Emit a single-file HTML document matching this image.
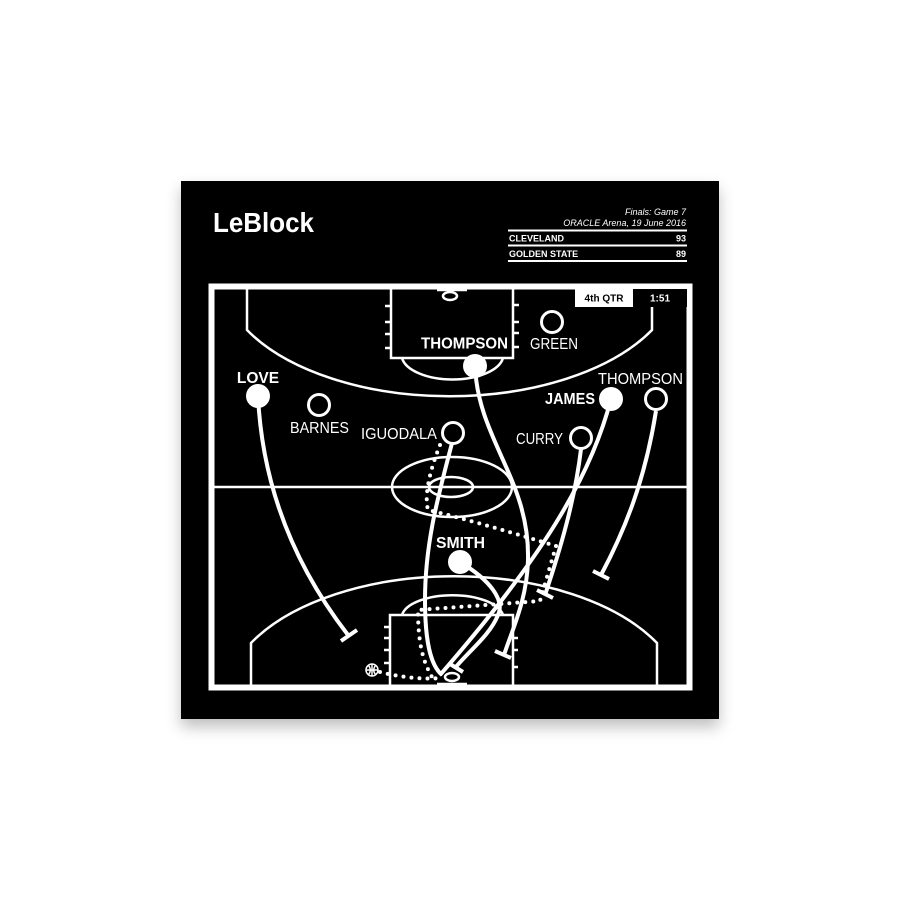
<!DOCTYPE html>
<html><head><meta charset="utf-8"><style>
html,body{margin:0;padding:0;background:#fff;width:900px;height:900px;overflow:hidden}
.p{position:absolute;left:181px;top:181px;width:538px;height:538px;background:#000;box-shadow:0 8px 14px rgba(0,0,0,0.25)}
svg{position:absolute;left:0;top:0}
text{font-family:"Liberation Sans",sans-serif;fill:#fff}
</style></head><body>
<div class="p"></div>
<svg width="900" height="900" viewBox="0 0 900 900">
<text x="213" y="232" font-size="28" font-weight="bold" textLength="101" lengthAdjust="spacingAndGlyphs">LeBlock</text>
<text x="686" y="215" font-size="9" font-style="italic" text-anchor="end">Finals: Game 7</text>
<text x="686" y="226" font-size="9" font-style="italic" text-anchor="end">ORACLE Arena, 19 June 2016</text>
<g stroke="#fff" stroke-width="2"><line x1="508" y1="230.5" x2="687" y2="230.5"/><line x1="508" y1="245.5" x2="687" y2="245.5"/><line x1="508" y1="261" x2="687" y2="261"/></g>
<text x="509" y="241.5" font-size="9" font-weight="bold">CLEVELAND</text>
<text x="686" y="241.5" font-size="9" font-weight="bold" text-anchor="end">93</text>
<text x="509" y="257" font-size="9" font-weight="bold">GOLDEN STATE</text>
<text x="686" y="257" font-size="9" font-weight="bold" text-anchor="end">89</text>

<g fill="none" stroke="#fff" stroke-width="2.5">
<rect x="211.5" y="286.5" width="478" height="401" stroke-width="6"/>
<line x1="212" y1="487" x2="689" y2="487"/>
<ellipse cx="452" cy="487" rx="60" ry="30"/>
<ellipse cx="451" cy="487" rx="22" ry="10"/>
<path d="M247,287 L247,330 A230,126 0 0 0 652,330 L652,287"/>
<rect x="391" y="287" width="122" height="71"/>
<path d="M402,358 A51,25 0 0 0 503,358"/>
<ellipse cx="450" cy="296" rx="7" ry="4"/>
<line x1="437" y1="290" x2="467" y2="290"/>
<path d="M385,306h6M385,322h6M385,334h6M385,348h6M513,305h6M513,322h6M513,333h6M513,347h6"/>
<path d="M251,687 L251,643 A230,126 0 0 1 657,643 L657,687"/>
<rect x="390" y="615" width="123" height="72"/>
<path d="M402,615 A51,23 0 0 1 503,615"/>
<ellipse cx="452" cy="677" rx="7" ry="4"/>
<line x1="437" y1="684" x2="467" y2="684"/>
<path d="M384,627h6M384,638h6M384,650h6M384,663h6M513,638h5M513,650h5M513,667h5"/>
</g>

<rect x="575" y="289" width="58" height="18" fill="#fff"/>
<text x="604" y="301.5" font-size="10" font-weight="bold" text-anchor="middle" style="fill:#000">4th QTR</text>
<rect x="633" y="289" width="54" height="18" fill="#000"/>
<text x="660" y="301.5" font-size="10" font-weight="bold" text-anchor="middle">1:51</text>

<g fill="none" stroke="#fff" stroke-width="4" stroke-linecap="round" stroke-dasharray="0 8">
<path d="M440,445 C430,470 424,495 428,510 C470,520 520,535 556,546 L540,601 L418,610 C418,640 422,660 432,677"/>
<path d="M380,672 C395,676 420,680 440,678"/>
</g>
<g fill="none" stroke="#fff" stroke-width="4">
<path d="M258,396 C262,480 290,560 348,635"/><path d="M341,641 L357,630"/>
<path d="M475,366 C478,440 530,480 528,560 C527,600 512,630 504,655"/><path d="M495,651 L511,658"/>
<path d="M611,399 C590,480 540,560 440,675"/>
<path d="M460,562 C490,580 505,600 498,615 C490,635 470,650 455,668"/><path d="M450,664 L463,672"/>
<path d="M452,443 C440,490 425,540 425,600 C425,640 430,665 442,675"/>
<path d="M581,449 C575,500 560,550 545,595"/><path d="M537,590 L553,598"/>
<path d="M656,411 C645,480 625,530 601,575"/><path d="M593,571 L609,579"/>
</g>
<g fill="#000" stroke="#fff" stroke-width="1.5">
<circle cx="372" cy="670" r="6"/><path d="M366,670h12M372,664v12M368,665c3,3 3,7 0,10M376,665c-3,3 -3,7 0,10" fill="none"/>
</g>
<g fill="#fff"><circle cx="475" cy="366" r="12"/><circle cx="258" cy="396" r="12"/><circle cx="611" cy="399" r="12"/><circle cx="460" cy="562" r="12"/></g>
<g fill="#000" stroke="#fff" stroke-width="3"><circle cx="552" cy="322" r="10.5"/><circle cx="319" cy="405" r="10.5"/><circle cx="453" cy="433" r="10.5"/><circle cx="581" cy="438" r="10.5"/><circle cx="656" cy="399" r="10.5"/></g>
<g font-size="15.5">
<text x="421" y="348.5" font-weight="bold" textLength="87" lengthAdjust="spacingAndGlyphs">THOMPSON</text>
<text x="530" y="349" textLength="48" lengthAdjust="spacingAndGlyphs">GREEN</text>
<text x="258" y="383" font-weight="bold" text-anchor="middle">LOVE</text>
<text x="290" y="433" textLength="59" lengthAdjust="spacingAndGlyphs">BARNES</text>
<text x="361" y="439" textLength="76" lengthAdjust="spacingAndGlyphs">IGUODALA</text>
<text x="516" y="444" textLength="47" lengthAdjust="spacingAndGlyphs">CURRY</text>
<text x="545" y="404" font-weight="bold" textLength="50" lengthAdjust="spacingAndGlyphs">JAMES</text>
<text x="598" y="384" textLength="85" lengthAdjust="spacingAndGlyphs">THOMPSON</text>
<text x="436" y="548" font-weight="bold" textLength="49" lengthAdjust="spacingAndGlyphs">SMITH</text>
</g>
</svg>
</body></html>
